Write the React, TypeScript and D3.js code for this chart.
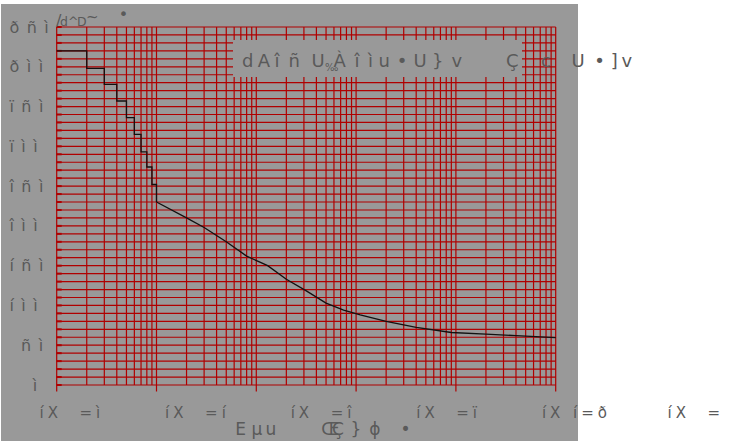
import React from "react";
import * as d3 from "d3";

// ---- data ----
const stepCycles = [1, 2, 3, 4, 5, 6, 7, 8, 9, 10];
const stepValues = [420, 398, 378, 357, 336, 315, 293, 274, 252, 230];
const curveCycles = [10, 20, 30, 50, 80, 130, 200, 320, 500, 750, 1100, 2000, 4000, 9000, 20000, 40000, 100000];
const curveValues = [230, 210, 198, 180, 162, 150, 133, 118, 103, 94, 88, 80, 72.5, 66, 64, 62, 59.5];

const yTickValues = [0, 50, 100, 150, 200, 250, 300, 350, 400, 450];
const yTickLabels = ["ì", "ñì", "íìì", "íñì", "îìì", "îñì", "ïìì", "ïñì", "ðìì", "ðñì"];
const xTickLabels = ["íX  =ì", "íX  =í", "íX  =î", "íX  =ï", "íX í=ð", "íX  ="];

const legendChars = ["d", "A", "î", "ñ", "U", "À", "î", "ì", "u", "•", "U", "}", "v", "Ç", "c", "U", "•", "]", "v"];
const legendSmall = "‰";
const xTitleChars = ["E", "µ", "u", "Œ", "Ç", "}", "ϕ", "•"];
const topTitleSlash = "/";
const topTitleChars = ["d", "^", "D"];
const topTitleTilde = "~";
const topTitleDot = "•";

// ---- layout ----
const W = 732;
const H = 441;
const X0 = 56.7;
const X1 = 555.7;
const Y0 = 385;
const Y1 = 27;
const GREY = "#999999";
const RED = "#b00000";
const TEXT = "#5a5a5a";
const FONT = "DejaVu Sans";

const legendX = [242, 257.7, 274.5, 288.4, 311.4, 333.5, 354.5, 368, 378.5, 396.7, 413.4, 432.1, 451.5, 506, 541, 571.4, 594.2, 610.8, 621.5];
const xTitleX = [235.2, 251.4, 265.5, 321.2, 332, 350.4, 369.2, 400.5];
const topTitleX = [60, 68, 77];

export default function App() {
  const x = d3.scaleLog().domain([1, 1e5]).range([X0, X1]);
  const y = d3.scaleLinear().domain([0, 450]).range([Y0, Y1]);

  const majors = d3.range(0, 6).map((k) => Math.pow(10, k));
  const minors: number[] = [];
  for (let k = 0; k < 5; k++) for (let m = 1; m <= 9; m++) minors.push(m * Math.pow(10, k));
  minors.push(1e5);
  const hLines = d3.range(0, 451, 10);

  const stepLine = d3
    .line<number>()
    .x((_, i) => x(stepCycles[i]))
    .y((d) => y(d))
    .curve(d3.curveStepAfter);
  const curveLine = d3
    .line<number>()
    .x((_, i) => x(curveCycles[i]))
    .y((d) => y(d));

  const labelPos = d3.scaleLinear().domain([0, 1]).range([39.5, 165.1]);

  return (
    <svg
      width={W}
      height={H}
      style={{ position: "absolute", left: 0, top: 0, display: "block" }}
      fontFamily={FONT}
    >
      <rect x={0} y={0} width={W} height={H} fill="#ffffff" />
      <rect x={1} y={4} width={577} height={437} fill={GREY} />

      {/* grid */}
      {minors.map((v, i) => (
        <line key={"v" + i} x1={x(v)} x2={x(v)} y1={y(450)} y2={y(0)} stroke={RED} strokeWidth={1.2} />
      ))}
      {hLines.map((v) => (
        <line key={"h" + v} x1={X0} x2={X1} y1={y(v)} y2={y(v)} stroke={RED} strokeWidth={1.2} />
      ))}
      {/* left inward ticks */}
      {hLines.map((v) => (
        <line key={"t" + v} x1={X0} x2={X0 + 5} y1={y(v)} y2={y(v)} stroke={RED} strokeWidth={2} />
      ))}
      {/* bottom major ticks */}
      {majors.map((v) => (
        <line key={"b" + v} x1={x(v)} x2={x(v)} y1={Y0} y2={Y0 + 6.5} stroke={RED} strokeWidth={1.2} />
      ))}

      {/* data */}
      <path d={stepLine(stepValues) || ""} fill="none" stroke="#111" strokeWidth={1.3} />
      <path d={curveLine(curveValues) || ""} fill="none" stroke="#111" strokeWidth={1.3} />

      {/* legend box */}
      <rect x={233} y={40} width={289} height={37} fill={GREY} />
      <text x={legendX.join(" ")} y={66.5} fontSize={18} fill={TEXT}>
        {legendChars.join("")}
      </text>
      <text x={325} y={71} fontSize={10} fill={TEXT}>
        {legendSmall}
      </text>

      {/* y tick labels */}
      {yTickValues.map((v, i) => (
        <text
          key={"yl" + v}
          x={44.5 - 11.7 * yTickLabels[i].length}
          y={y(v) + 5.5}
          fontSize={16}
          letterSpacing={7.5}
          fill={TEXT}
        >
          {yTickLabels[i]}
        </text>
      ))}

      {/* x tick labels */}
      {xTickLabels.map((s, i) => (
        <text
          key={"xl" + i}
          x={labelPos(i)}
          y={417.5}
          fontSize={15}
          letterSpacing={4}
          fill={TEXT}
          style={{ whiteSpace: "pre" }}
        >
          {s}
        </text>
      ))}

      {/* x axis title */}
      <text x={xTitleX.join(" ")} y={435} fontSize={17} fill={TEXT}>
        {xTitleChars.join("")}
      </text>

      {/* top title */}
      <text x={56} y={26} fontSize={16} fill={TEXT}>
        {topTitleSlash}
      </text>
      <text x={topTitleX.join(" ")} y={25.5} fontSize={12.5} fill={TEXT}>
        {topTitleChars.join("")}
      </text>
      <text x={86} y={22} fontSize={15} fill={TEXT}>
        {topTitleTilde}
      </text>
      <text x={123.5} y={20} fontSize={16} textAnchor="middle" fill={TEXT}>
        {topTitleDot}
      </text>
    </svg>
  );
}
